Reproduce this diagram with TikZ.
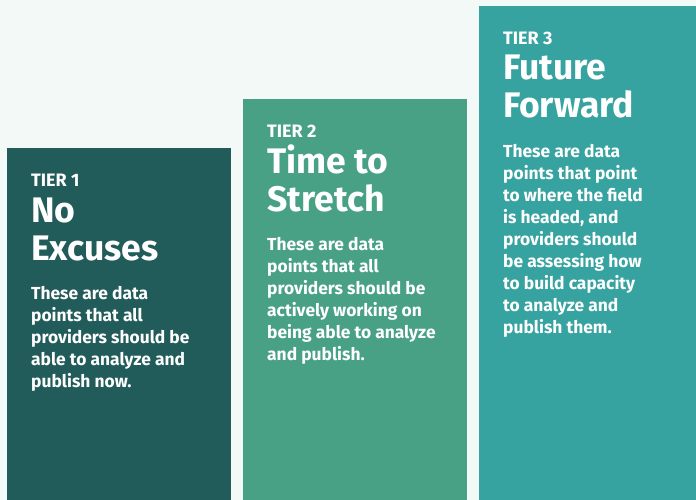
\documentclass[tikz,border=0pt]{standalone}
\usepackage{fontspec}
\setmainfont{Fira Sans}
\usetikzlibrary{positioning}
\definecolor{tierdark}{HTML}{225C5A}
\definecolor{tiergreen}{HTML}{48A085}
\definecolor{tierteal}{HTML}{37A3A0}
\definecolor{pagemint}{HTML}{F3F9F7}

\begin{document}
\begin{tikzpicture}[x=1pt, y=-1pt,
    every node/.style={inner sep=0pt, text=white},
    column/.style={anchor=north west, minimum width=224pt},
    tierlabel/.style={anchor=base west, font=\fontsize{18}{20}\selectfont\bfseries},
    headline/.style={anchor=base west, align=left, font=\fontsize{35.5}{38}\selectfont\bfseries},
    blurb/.style={anchor=base west, align=left, font=\fontsize{17.4}{22}\selectfont\bfseries}
]
    % Page
    \useasboundingbox (0,0) rectangle (696,500);
    \fill[pagemint] (0,0) rectangle (696,500);

    % Columns
    \node[column, fill=tierdark, minimum height=352pt] (tier1) at (7,148) {};
    \node[column, fill=tiergreen, minimum height=401pt] (tier2) at (243,99) {};
    \node[column, fill=tierteal, minimum width=217pt, minimum height=494pt] (tier3) at (479,6) {};

    % Tier 1 (multi-line nodes sit on their last baseline)
    \node[below right=38.5pt and 24pt of tier1.north west, tierlabel] (label1) {TIER 1};
    \node[below=73.5pt of label1.base west, headline] (title1) {No\\Excuses};
    \node[below=200.5pt of label1.base west, blurb] (text1)
        {These are data\\points that all\\providers should be\\able to analyze and\\publish now.};

    % Tier 2
    \node[below right=38.5pt and 24pt of tier2.north west, tierlabel] (label2) {TIER 2};
    \node[below=73.5pt of label2.base west, headline] (title2) {Time to\\Stretch};
    \node[below=222.5pt of label2.base west, blurb] (text2)
        {These are data\\points that all\\providers should be\\actively working on\\being able to analyze\\and publish.};

    % Tier 3
    \node[below right=38.5pt and 24pt of tier3.north west, tierlabel] (label3) {TIER 3};
    \node[below=73.5pt of label3.base west, headline] (title3) {Future\\Forward};
    \node[below=288.5pt of label3.base west, blurb] (text3)
        {These are data\\points that point\\to where the field\\is headed, and\\providers should\\be assessing how\\to build capacity\\to analyze and\\publish them.};
\end{tikzpicture}
\end{document}
